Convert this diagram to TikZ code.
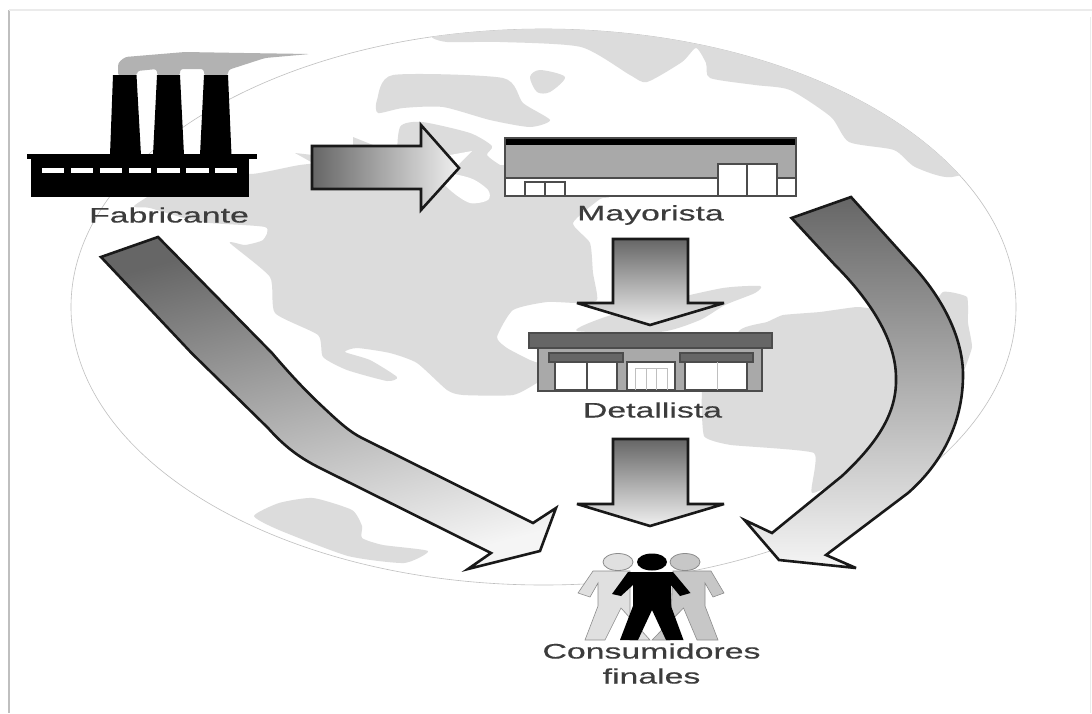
\documentclass[tikz,border=0pt]{standalone}
\usepackage{fontspec}
\setmainfont{Liberation Sans}[FakeBold=0.35]
\newcommand{\lbl}[1]{\scalebox{1.61}[1]{\addfontfeature{FakeBold=0.35}\fontsize{21}{25}\selectfont #1}}
\definecolor{land}{HTML}{DCDCDC}
\definecolor{midg}{HTML}{A9A9A9}
\definecolor{smokeg}{HTML}{B2B2B2}
\definecolor{darkg}{HTML}{666666}
\definecolor{lblc}{HTML}{3C3C3C}
\tikzset{
  landpatch/.style={fill=land,draw=none},
  whitepatch/.style={fill=white,draw=none},
  bigarrow/.style={draw=black!90,line width=2.6pt,line join=miter,miter limit=6},
  lbltext/.style={text=lblc,inner sep=0pt,align=center,font=\fontsize{21}{25}\selectfont},
  bldline/.style={draw=black!70,line width=1.6pt},
  paleline/.style={draw=black!25,line width=0.8pt},
}
\begin{document}
\begin{tikzpicture}[x=1pt,y=-1pt]
\useasboundingbox (0,0) rectangle (1092,713);
\fill[white] (0,0) rectangle (1092,713);
% page frame
\draw[black!25,line width=2.5pt] (9,10) -- (9,713);
\draw[black!8,line width=2pt] (9,10) -- (1092,10);
\draw[black!8,line width=1pt] (1090.5,17) -- (1090.5,713);
% globe
\draw[black!25,line width=0.6pt,fill=white] (543.5,307) ellipse [x radius=472.5,y radius=278];
\begin{scope}
\clip (543.5,307) ellipse [x radius=472.5,y radius=278];
% north
\fill[landpatch] plot[smooth cycle,tension=0.4] coordinates {(432,36) (470,25) (630,20) (800,40) (1000,150) (952,177) (915,167) (894,150) (849,142) (831,117) (790,90) (755,85) (710,78) (706,63) (696,48) (682,62) (647,82) (630,75) (581,47) (500,42) (447,42)};
\fill[landpatch] plot[smooth cycle,tension=0.4] coordinates {(377,100) (393,75) (503,78) (523,103) (550,120) (530,127) (490,120) (443,107) (403,108) (378,113)};
\fill[landpatch] plot[smooth cycle,tension=0.5] coordinates {(530,77) (540,70) (565,77) (550,92) (537,92)};
% main continent
\fill[landpatch] plot[smooth cycle,tension=0.35] coordinates {(135,205) (200,168) (251,174) (300,165) (353,160) (420,160) (500,165) (610,165) (610,196) (600,199) (573,223) (590,243) (593,273) (597,300) (577,303) (547,302) (513,310) (497,337) (507,348) (530,360) (545,366) (545,380) (537,383) (513,395) (463,395) (447,390) (417,363) (390,353) (357,348) (345,352) (370,360) (397,377) (387,381) (347,370) (323,357) (318,335) (275,313) (270,277) (230,243) (245,245) (263,240) (265,227) (200,222) (150,208)};
\fill[landpatch] (353,137) -- (378,147) -- (353,152) -- cycle;
\fill[landpatch] (295,153) -- (313,155) -- (313,163) -- cycle;
\fill[landpatch] plot[smooth cycle,tension=0.4] coordinates {(400,127) (422,122) (470,133) (492,146) (487,155) (500,165) (515,172) (515,200) (440,205) (400,165)};
\fill[whitepatch] (455,168) -- (450,155) -- (472,151) -- cycle;
\fill[whitepatch] plot[smooth cycle,tension=0.5] coordinates {(436,172) (470,178) (488,190) (488,200) (470,203) (450,190)};
% bands and south
\fill[landpatch] plot[smooth cycle,tension=0.4] coordinates {(577,331) (605,317) (660,302) (723,288) (760,286) (755,293) (725,305) (700,320) (660,332)};
\fill[landpatch] plot[smooth cycle,tension=0.25] coordinates {(703,385) (740,330) (767,322) (783,315) (820,312) (857,307) (880,310) (920,320) (943,292) (967,297) (968,323) (972,347) (963,373) (940,420) (860,470) (812,493) (814,453) (731,445) (704,436)};
\fill[landpatch] plot[smooth cycle,tension=0.35] coordinates {(254,516) (279,503) (313,498) (352,510) (362,526) (362,538) (383,545) (428,551) (404,563) (348,556) (279,530)};
\end{scope}
% smoke
\fill[smokeg,rounded corners=3pt] (118,63) -- (125,57) -- (185,52) -- (244,53) -- (310,54) -- (265,58) -- (228,70) -- (228,76) -- (204,76) -- (204,69) -- (180,69) -- (180,76) -- (157,76) -- (157,69) -- (137,71) -- (137,76) -- (118,76) -- cycle;
% factory
\fill[black] (113,75) -- (136.5,75) -- (141,155) -- (110,155) -- cycle;
\fill[black] (157,75) -- (180,75) -- (184,155) -- (153,155) -- cycle;
\fill[black] (204,75) -- (228,75) -- (231.5,155) -- (200,155) -- cycle;
\fill[black] (27,154) rectangle (257,159);
\fill[black] (31,159) rectangle (249,197);
\foreach \a/\b in {42/64,71/93,100/122,129/151,157/180,186/209,215/237}
  \fill[white] (\a,168) rectangle (\b,173);
% wholesaler
\fill[white] (505,138) rectangle (796,196);
\fill[midg] (505,145) rectangle (796,178);
\fill[white] (718,164) rectangle (777,196);
\fill[black] (505,138) rectangle (796,145);
\draw[bldline] (505,138) rectangle (796,196);
\draw[bldline] (505,178) -- (718,178) (777,178) -- (796,178);
\draw[bldline] (718,196) -- (718,164) -- (777,164) -- (777,196) (747,164) -- (747,196);
\draw[bldline] (525,196) -- (525,182) -- (565,182) -- (565,196) (545,182) -- (545,196);
% store
\fill[midg] (538,348) rectangle (762,391);
\draw[bldline] (538,348) rectangle (762,391);
\draw[bldline,fill=darkg] (529,333) rectangle (772,348);
\draw[bldline,fill=darkg] (549,353) rectangle (623,362);
\draw[bldline,fill=darkg] (680,353) rectangle (753,362);
\draw[bldline,fill=white] (555,362) rectangle (617,390);
\draw[bldline,fill=white] (685,362) rectangle (747,390);
\draw[bldline,fill=white] (627,362) rectangle (675,390);
\draw[bldline] (587,362) -- (587,390);
\draw[paleline] (717,362) -- (717,390);
\draw[paleline] (635,390) -- (635,368) -- (667,368) -- (667,390) (646,368) -- (646,390) (656,368) -- (656,390);
% block arrows
\path[bigarrow,left color=darkg,right color=black!6] (312,146) -- (421,146) -- (421,125) -- (459,168) -- (421,210) -- (421,189) -- (312,189) -- cycle;
\path[bigarrow,top color=darkg,bottom color=black!6] (613,239) -- (688,239) -- (688,303) -- (724,303) -- (650,325) -- (577,303) -- (613,303) -- cycle;
\path[bigarrow,top color=darkg,bottom color=black!6] (613,439) -- (688,439) -- (688,504) -- (724,504) -- (650,526) -- (577,504) -- (613,504) -- cycle;
\path[bigarrow,top color=darkg,bottom color=black!4,shading angle=15] (158,237) -- (272,353) .. controls (295,380) and (310,395) .. (324,408) .. controls (340,423) and (350,432) .. (362,438) -- (533,523) -- (556,508) -- (540,551) -- (468,569) -- (491,553) -- (320,468) .. controls (300,458) and (285,447) .. (268,428) -- (191.5,353) -- (101,257) -- cycle;
\path[bigarrow,top color=darkg,bottom color=black!4] (851,197) -- (915,268) .. controls (945,302) and (963,340) .. (963,375) .. controls (963,425) and (940,465) .. (908,493) -- (826,555) -- (856,568) -- (779,560) -- (744.5,520) -- (772,533) -- (842,476) .. controls (875,445) and (897,415) .. (896,378) .. controls (896,340) and (870,300) .. (835,265) -- (791.5,218) -- cycle;
% people
\fill[black!12,draw=black!45,line width=0.6pt] (593,571) -- (630,571) -- (630,640) -- (650,640) -- (621,608) -- (605,640) -- (585,640) -- (598,606) -- (598,583) -- (590,597) -- (578,593) -- cycle;
\fill[black!22,draw=black!45,line width=0.6pt] (711,571) -- (673,571) -- (670,640) -- (652,640) -- (683.5,608) -- (697,640) -- (718,640) -- (705,606) -- (705,583) -- (713,597) -- (724,593) -- cycle;
\draw[black!45,fill=black!12,line width=0.8pt] (618,562) ellipse [x radius=15,y radius=8.5];
\draw[black!45,fill=black!22,line width=0.8pt] (685,562) ellipse [x radius=15,y radius=8.5];
\fill[black] (652,562) ellipse [x radius=15,y radius=8.5];
\fill[black] (628,572) -- (673,572) -- (690.5,593) -- (680,596) -- (671,585) -- (671,606) -- (683.5,640) -- (666,640) -- (652,610) -- (638,640) -- (620,640) -- (633,606) -- (633,585) -- (621,596) -- (612,594) -- cycle;
% labels
\node[lbltext] (fabricante) at (169,215) {\lbl{Fabricante}};
\node[lbltext] (mayorista) at (650.5,215) {\lbl{Mayorista}};
\node[lbltext] (detallista) at (652.5,410) {\lbl{Detallista}};
\node[lbltext] (consumidores) at (651.5,663.5) {\lbl{Consumidores}\\\lbl{finales}};
\end{tikzpicture}
\end{document}
